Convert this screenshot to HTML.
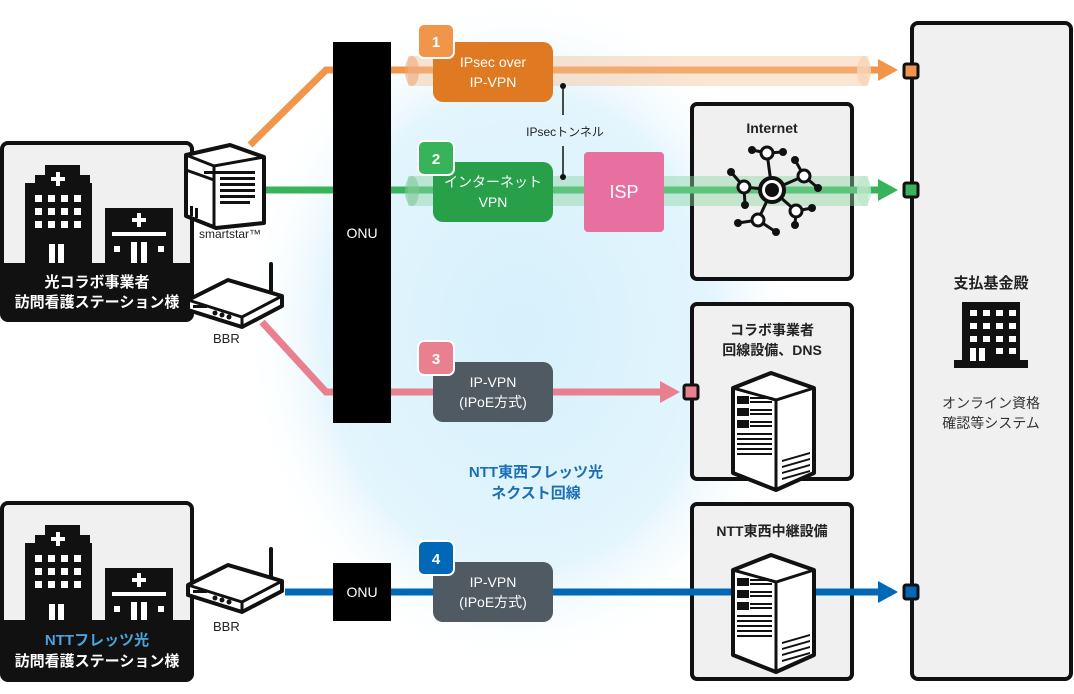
<!DOCTYPE html>
<html><head><meta charset="utf-8"><style>
html,body{margin:0;padding:0;background:#fff;}
svg{display:block;font-family:"Liberation Sans","Noto Sans CJK JP",sans-serif;}
</style></head><body>
<svg width="1074" height="694" viewBox="0 0 1074 694" xmlns="http://www.w3.org/2000/svg">
<defs>
<radialGradient id="glow" cx="0.5" cy="0.5" r="0.5">
<stop offset="0" stop-color="#d6f0fc"/><stop offset="0.7" stop-color="#e3f5fd"/><stop offset="1" stop-color="#ffffff" stop-opacity="0"/>
</radialGradient>
<g id="hosp">
<path d="M25 263 V183 h10 v-8 h10 v-10 h35 v10 h10 v8 h2 V263 Z" fill="#111"/>
<rect x="56" y="172" width="4" height="14" fill="#fff"/><rect x="51" y="177" width="14" height="4" fill="#fff"/>
<g fill="#fff">
<rect x="35" y="195" width="7" height="7"/><rect x="48" y="195" width="7" height="7"/><rect x="61" y="195" width="7" height="7"/><rect x="74" y="195" width="7" height="7"/>
<rect x="35" y="208" width="7" height="7"/><rect x="48" y="208" width="7" height="7"/><rect x="61" y="208" width="7" height="7"/><rect x="74" y="208" width="7" height="7"/>
<rect x="35" y="221" width="7" height="7"/><rect x="48" y="221" width="7" height="7"/><rect x="61" y="221" width="7" height="7"/><rect x="74" y="221" width="7" height="7"/>
<rect x="49" y="244" width="6" height="19"/><rect x="58" y="244" width="6" height="19"/>
</g>
<rect x="105" y="208" width="68" height="55" fill="#111"/>
<rect x="137" y="213" width="4" height="14" fill="#fff"/><rect x="132" y="218" width="14" height="4" fill="#fff"/>
<rect x="112" y="232" width="54" height="4" fill="#fff"/>
<rect x="114" y="246" width="6" height="6" fill="#fff"/><rect x="158" y="246" width="6" height="6" fill="#fff"/>
<rect x="131" y="242" width="6" height="21" fill="#fff"/><rect x="141" y="242" width="6" height="21" fill="#fff"/>
</g>
<g id="router">
<line x1="271" y1="264" x2="271" y2="296" stroke="#111" stroke-width="4" stroke-linecap="round"/>
<path d="M188 300 L228 280 L282 296 L282 306 L242 327 L188 310 Z" fill="#fff" stroke="#111" stroke-width="4" stroke-linejoin="round"/>
<path d="M188 300 L242 317 L282 296 M242 317 V327" fill="none" stroke="#111" stroke-width="3"/>
<rect x="193" y="305" width="14" height="3" fill="#111"/>
<circle cx="215" cy="313" r="2.5" fill="#111"/><circle cx="222" cy="315" r="2.5" fill="#111"/><circle cx="229" cy="317" r="2.5" fill="#111"/>
</g>
<g id="server">
<path d="M733 388 L771 373 L814 388 L814 473 L776 490 L733 473 Z" fill="#fff" stroke="#111" stroke-width="4" stroke-linejoin="round"/>
<path d="M733 388 L776 400 L814 388 M776 400 V490" fill="none" stroke="#111" stroke-width="3"/>
<g fill="#111">
<rect x="737" y="396" width="12" height="8"/><rect x="737" y="408" width="12" height="8"/><rect x="737" y="420" width="12" height="8"/>
<rect x="750" y="397" width="22" height="2"/><rect x="750" y="401" width="22" height="2"/><rect x="750" y="409" width="22" height="2"/><rect x="750" y="413" width="22" height="2"/><rect x="750" y="421" width="22" height="2"/><rect x="750" y="425" width="22" height="2"/>
<rect x="737" y="433" width="35" height="2"/><rect x="737" y="438" width="35" height="2"/><rect x="737" y="443" width="35" height="2"/><rect x="737" y="448" width="35" height="2"/><rect x="737" y="453" width="35" height="2"/>
<path d="M782 460 L810 452 v2 L782 462Z M782 466 L810 458 v2 L782 468Z M782 472 L810 464 v2 L782 474Z M782 478 L810 470 v2 L782 480Z"/>
</g>
</g>
</defs>

<ellipse cx="520" cy="330" rx="280" ry="340" fill="url(#glow)"/>

<!-- right big box -->
<rect x="912" y="23" width="159" height="656" rx="6" fill="#f0f0f0" stroke="#111" stroke-width="4"/>
<text x="991" y="288" font-size="15" font-weight="bold" text-anchor="middle" fill="#222">支払基金殿</text>
<rect x="962" y="302" width="58" height="60" fill="#111"/>
<rect x="954" y="360" width="74" height="8" fill="#111"/>
<g fill="#fff"><rect x="970" y="310" width="7" height="6"/><rect x="983" y="310" width="7" height="6"/><rect x="996" y="310" width="7" height="6"/><rect x="1009" y="310" width="7" height="6"/>
<rect x="970" y="323" width="7" height="6"/><rect x="983" y="323" width="7" height="6"/><rect x="996" y="323" width="7" height="6"/><rect x="1009" y="323" width="7" height="6"/>
<rect x="970" y="336" width="7" height="6"/><rect x="983" y="336" width="7" height="6"/><rect x="996" y="336" width="7" height="6"/><rect x="1009" y="336" width="7" height="6"/>
<rect x="970" y="348" width="6" height="13"/><rect x="979" y="348" width="6" height="13"/><rect x="996" y="348" width="7" height="6"/><rect x="1009" y="348" width="7" height="6"/></g>
<text x="991" y="408" font-size="14" text-anchor="middle" fill="#333">オンライン資格</text>
<text x="991" y="428" font-size="14" text-anchor="middle" fill="#333">確認等システム</text>

<!-- mid boxes -->
<rect x="692" y="104" width="160" height="175" rx="5" fill="#f0f0f0" stroke="#111" stroke-width="4"/>
<rect x="692" y="304" width="160" height="175" rx="5" fill="#f0f0f0" stroke="#111" stroke-width="4"/>
<rect x="692" y="504" width="160" height="175" rx="5" fill="#f0f0f0" stroke="#111" stroke-width="4"/>
<text x="772" y="133" font-size="14" font-weight="bold" text-anchor="middle" fill="#222">Internet</text>
<text x="772" y="335" font-size="14" font-weight="bold" text-anchor="middle" fill="#222">コラボ事業者</text>
<text x="772" y="355" font-size="14" font-weight="bold" text-anchor="middle" fill="#222">回線設備、DNS</text>
<text x="772" y="536" font-size="14" font-weight="bold" text-anchor="middle" fill="#222">NTT東西中継設備</text>

<!-- left boxes -->
<rect x="2" y="143" width="190" height="177" rx="6" fill="#f0f0f0" stroke="#111" stroke-width="4"/>
<use href="#hosp"/>
<path d="M2 263 H192 V314 a6 6 0 0 1 -6 6 H8 a6 6 0 0 1 -6 -6Z" fill="#111"/>
<text x="97" y="287" font-size="15" font-weight="bold" text-anchor="middle" fill="#fff">光コラボ事業者</text>
<text x="97" y="307" font-size="15" font-weight="bold" text-anchor="middle" fill="#fff">訪問看護ステーション様</text>
<rect x="2" y="503" width="190" height="177" rx="6" fill="#f0f0f0" stroke="#111" stroke-width="4"/>
<use href="#hosp" transform="translate(0,360)"/>
<path d="M2 620 H192 V674 a6 6 0 0 1 -6 6 H8 a6 6 0 0 1 -6 -6Z" fill="#111"/>
<text x="97" y="645" font-size="15" font-weight="bold" text-anchor="middle" fill="#4aa3df">NTTフレッツ光</text>
<text x="97" y="666" font-size="15" font-weight="bold" text-anchor="middle" fill="#fff">訪問看護ステーション様</text>

<!-- lines -->
<polyline points="250,145 326,70 880,70" fill="none" stroke="#f0954a" stroke-width="7"/>
<line x1="265" y1="190" x2="880" y2="190" stroke="#37b459" stroke-width="7"/>
<polyline points="262,322 326,392 662,392" fill="none" stroke="#e8808f" stroke-width="7"/>
<line x1="285" y1="592" x2="880" y2="592" stroke="#0068b7" stroke-width="7"/>
<use href="#server"/>
<use href="#server" transform="translate(0,182)"/>
<!-- tubes -->
<rect x="408" y="56" width="460" height="30" fill="#f4c49c" opacity="0.45"/>
<ellipse cx="412" cy="71" rx="7" ry="15" fill="#f0a878" opacity="0.6"/>
<ellipse cx="864" cy="71" rx="7" ry="15" fill="#f8d4b8" opacity="0.8"/>
<rect x="408" y="176" width="460" height="30" fill="#8fd4a4" opacity="0.45"/>
<ellipse cx="412" cy="191" rx="7" ry="15" fill="#7fc898" opacity="0.6"/>
<ellipse cx="864" cy="191" rx="7" ry="15" fill="#bfe8cc" opacity="0.8"/>
<polygon points="878,59 898,70 878,81" fill="#f0954a"/>
<polygon points="878,179 898,190 878,201" fill="#37b459"/>
<polygon points="660,381 680,392 660,403" fill="#e8808f"/>
<polygon points="878,581 898,592 878,603" fill="#0068b7"/>
<rect x="904" y="64" width="14" height="14" rx="2" fill="#f0954a" stroke="#111" stroke-width="3"/>
<rect x="904" y="183" width="14" height="14" rx="2" fill="#37b459" stroke="#111" stroke-width="3"/>
<rect x="684" y="385" width="14" height="14" rx="2" fill="#e8808f" stroke="#111" stroke-width="3"/>
<rect x="904" y="585" width="14" height="14" rx="2" fill="#0068b7" stroke="#111" stroke-width="3"/>

<!-- internet network icon -->
<g stroke="#111" stroke-width="3" fill="#fff">
<line x1="772" y1="190" x2="767" y2="153"/><line x1="767" y1="153" x2="752" y2="150"/><line x1="767" y1="153" x2="783" y2="152"/>
<line x1="772" y1="190" x2="804" y2="176"/><line x1="804" y1="176" x2="795" y2="160"/><line x1="804" y1="176" x2="818" y2="188"/>
<line x1="772" y1="190" x2="744" y2="187"/><line x1="744" y1="187" x2="731" y2="172"/><line x1="744" y1="187" x2="745" y2="205"/>
<line x1="772" y1="190" x2="796" y2="211"/><line x1="796" y1="211" x2="812" y2="208"/><line x1="796" y1="211" x2="795" y2="225"/>
<line x1="772" y1="190" x2="758" y2="220"/><line x1="758" y1="220" x2="738" y2="223"/><line x1="758" y1="220" x2="776" y2="232"/>
<circle cx="767" cy="153" r="6"/><circle cx="804" cy="176" r="6"/><circle cx="744" cy="187" r="6"/><circle cx="796" cy="211" r="6"/><circle cx="758" cy="220" r="6"/>
</g>
<g fill="#111"><circle cx="752" cy="150" r="4"/><circle cx="783" cy="152" r="4"/><circle cx="795" cy="160" r="4"/><circle cx="818" cy="188" r="4"/><circle cx="731" cy="172" r="4"/><circle cx="745" cy="205" r="4"/><circle cx="812" cy="208" r="4"/><circle cx="795" cy="225" r="4"/><circle cx="738" cy="223" r="4"/><circle cx="776" cy="232" r="4"/></g>
<circle cx="772" cy="190" r="12" fill="#fff" stroke="#111" stroke-width="4"/><circle cx="772" cy="190" r="7" fill="#111"/>

<!-- ONU -->
<rect x="333" y="42" width="58" height="381" fill="#000"/>
<text x="362" y="238" font-size="14" text-anchor="middle" fill="#fff">ONU</text>
<rect x="333" y="563" width="58" height="58" fill="#000"/>
<text x="362" y="597" font-size="14" text-anchor="middle" fill="#fff">ONU</text>

<!-- devices -->
<g stroke="#111" stroke-width="4" stroke-linejoin="round">
<path d="M186 155 L230 145 L264 157 L264 223 L216 228 L186 216 Z" fill="#fff"/>
</g>
<path d="M186 155 L214 166 L264 157 M214 166 V228 M186 170 L214 180" fill="none" stroke="#111" stroke-width="3"/>
<g fill="#111"><rect x="204" y="171" width="51" height="3"/><rect x="220" y="177" width="35" height="3"/><rect x="220" y="183" width="35" height="3"/><rect x="220" y="189" width="35" height="3"/><rect x="220" y="195" width="35" height="3"/><rect x="220" y="201" width="30" height="3"/><rect x="190" y="206" width="3" height="10"/><rect x="195" y="208" width="3" height="10"/></g>
<text x="199" y="238" font-size="12" fill="#222">smartstar™</text>
<use href="#router"/>
<text x="213" y="343" font-size="13" fill="#222">BBR</text>
<use href="#router" transform="translate(0,285)"/>
<text x="213" y="631" font-size="13" fill="#222">BBR</text>

<!-- labels -->
<rect x="433" y="42" width="120" height="60" rx="10" fill="#e07a22"/>
<text x="493" y="67" font-size="14" text-anchor="middle" fill="#fff">IPsec over</text>
<text x="493" y="87" font-size="14" text-anchor="middle" fill="#fff">IP-VPN</text>
<rect x="418" y="24" width="36" height="34" rx="6" fill="#f0954a" stroke="#fff" stroke-width="2"/>
<text x="436" y="47" font-size="15" font-weight="bold" text-anchor="middle" fill="#fff">1</text>

<line x1="563" y1="86" x2="563" y2="115" stroke="#111" stroke-width="1.5"/>
<line x1="563" y1="146" x2="563" y2="177" stroke="#111" stroke-width="1.5"/>
<circle cx="563" cy="86" r="3" fill="#111"/><circle cx="563" cy="177" r="3" fill="#111"/>
<text x="565" y="136" font-size="12" text-anchor="middle" fill="#222">IPsecトンネル</text>

<rect x="433" y="162" width="120" height="60" rx="10" fill="#28a049"/>
<text x="493" y="187" font-size="14" text-anchor="middle" fill="#fff">インターネット</text>
<text x="493" y="207" font-size="14" text-anchor="middle" fill="#fff">VPN</text>
<rect x="418" y="141" width="36" height="34" rx="6" fill="#37b459" stroke="#fff" stroke-width="2"/>
<text x="436" y="164" font-size="15" font-weight="bold" text-anchor="middle" fill="#fff">2</text>
<rect x="584" y="152" width="80" height="80" rx="4" fill="#e870a0"/>
<text x="624" y="198" font-size="18" text-anchor="middle" fill="#fff">ISP</text>

<rect x="433" y="362" width="120" height="60" rx="10" fill="#4f5a62"/>
<text x="493" y="387" font-size="14" text-anchor="middle" fill="#fff">IP-VPN</text>
<text x="493" y="407" font-size="14" text-anchor="middle" fill="#fff">(IPoE方式)</text>
<rect x="418" y="341" width="36" height="34" rx="6" fill="#e8808f" stroke="#fff" stroke-width="2"/>
<text x="436" y="364" font-size="15" font-weight="bold" text-anchor="middle" fill="#fff">3</text>

<rect x="433" y="562" width="120" height="60" rx="10" fill="#4f5a62"/>
<text x="493" y="587" font-size="14" text-anchor="middle" fill="#fff">IP-VPN</text>
<text x="493" y="607" font-size="14" text-anchor="middle" fill="#fff">(IPoE方式)</text>
<rect x="418" y="541" width="36" height="34" rx="6" fill="#0068b7" stroke="#fff" stroke-width="2"/>
<text x="436" y="564" font-size="15" font-weight="bold" text-anchor="middle" fill="#fff">4</text>

<text x="536" y="477" font-size="15" font-weight="bold" text-anchor="middle" fill="#1a6fb5">NTT東西フレッツ光</text>
<text x="536" y="498" font-size="15" font-weight="bold" text-anchor="middle" fill="#1a6fb5">ネクスト回線</text>
</svg>
</body></html>
